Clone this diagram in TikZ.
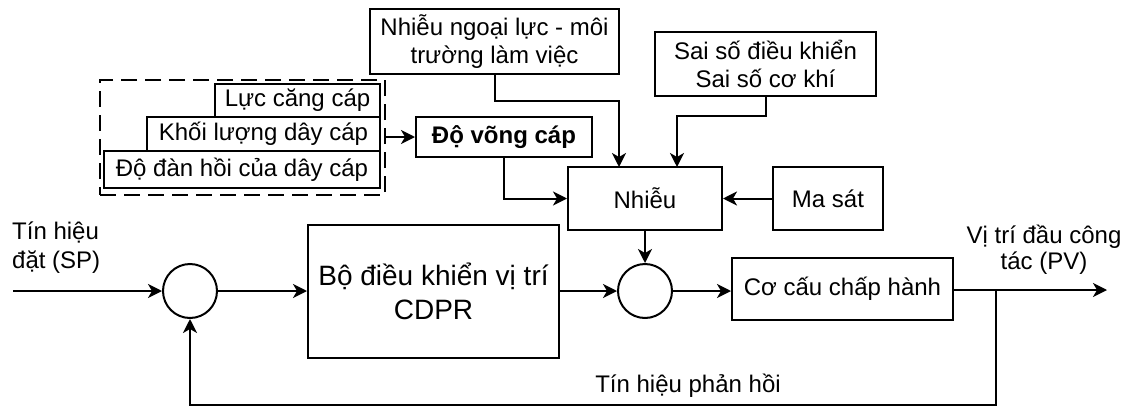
\documentclass[tikz,border=0pt]{standalone}
\usepackage{fontspec}
\setmainfont{Liberation Sans}
\usetikzlibrary{arrows.meta}
\begin{document}
\begin{tikzpicture}[x=1pt,y=-1pt,
  every node/.style={font=\fontsize{24}{27.5}\selectfont},
  blk/.style={draw,line width=2pt,inner sep=0pt,align=center},
  sumc/.style={draw,line width=2pt,circle,inner sep=0pt,minimum size=54pt},
  lbl/.style={inner sep=0pt},
  arr/.style={line width=2pt,-{Stealth[length=14pt,width=14pt,inset=4pt]}},
  ln/.style={line width=2pt}
]
\useasboundingbox (0,0) rectangle (1130,407);
% top blocks
\node[blk,minimum width=249pt,minimum height=65pt] (nl) at (494.5,41.5) {Nhiễu ngoại lực - môi\\trường làm việc};
\node[blk,minimum width=221pt,minimum height=64pt] (ss) at (765.5,64) {Sai số điều khiển\\Sai số cơ khí};
\node[blk,minimum width=176pt,minimum height=40pt,font=\fontsize{24}{27.5}\selectfont\bfseries] (dv) at (504,137) {Độ võng cáp};
\node[blk,minimum width=154pt,minimum height=63pt] (nh) at (645,198.5) {Nhiễu};
\node[blk,minimum width=110pt,minimum height=63pt] (ms) at (828,198.5) {Ma sát};
% grouped causes
\node[draw,line width=2pt,dash pattern=on 16pt off 8pt,inner sep=0pt,minimum width=285pt,minimum height=115pt] (grp) at (242.5,137.5) {};
\node[blk,minimum width=165pt,minimum height=33pt] (lc) at (297.5,100.5) {Lực căng cáp};
\node[blk,minimum width=233pt,minimum height=34pt] (kl) at (263.5,134) {Khối lượng dây cáp};
\node[blk,minimum width=276pt,minimum height=37pt] (dh) at (242,169.5) {Độ đàn hồi của dây cáp};
% main loop
\node[sumc] (s1) at (190,291) {};
\node[blk,minimum width=251pt,minimum height=133pt,font=\fontsize{28}{34}\selectfont] (ctl) at (433.5,291.5) {Bộ điều khiển vị trí\\CDPR};
\node[sumc] (s2) at (645,291) {};
\node[blk,minimum width=221pt,minimum height=62pt] (act) at (842.5,289) {Cơ cấu chấp hành};
\coordinate (in) at (13,291);
\coordinate (out) at (1107,290);
\coordinate (br) at (996,290);
% labels
\node[lbl,anchor=west,align=left,font=\fontsize{24}{29}\selectfont] (sp) at (12,247.5) {Tín hiệu\\đặt (SP)};
\node[lbl,align=center,font=\fontsize{24}{26}\selectfont] (pv) at (1044,250) {Vị trí đầu công\\tác (PV)};
\node[lbl] (fb) at (688,386) {Tín hiệu phản hồi};
% connectors
\draw[arr] (grp.east |- dv.west) -- (dv.west);
\draw[arr] (nl.south) |- (619,101) -- (619,167);
\draw[arr] (ss.south) |- (677,116) -- (677,167);
\draw[arr] (dv.south) |- (nh.west);
\draw[arr] (ms.west) -- (nh.east);
\draw[arr] (nh.south) -- (s2.north);
\draw[arr] (in) -- (s1.west);
\draw[arr] (s1.east) -- (s1.east -| ctl.west);
\draw[arr] (ctl.east |- s2.west) -- (s2.west);
\draw[arr] (s2.east) -- (s2.east -| act.west);
\draw[arr] (act.east |- out) -- (out);
\draw[arr] (br) -- (996,405) -| (s1.south);
\end{tikzpicture}
\end{document}
